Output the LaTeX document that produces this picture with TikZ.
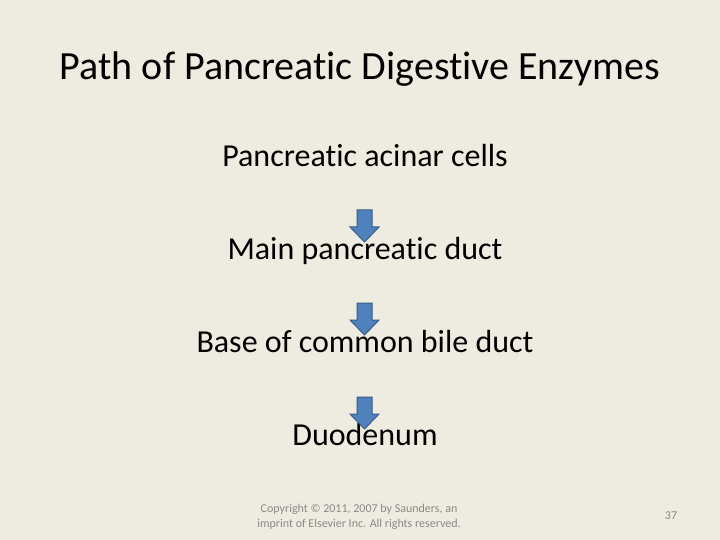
\documentclass[tikz,border=0pt]{standalone}
\usepackage{fontspec}
\setmainfont[Ligatures={NoCommon}]{Carlito}
\definecolor{slidebg}{HTML}{EEECE1}
\definecolor{arrowfill}{HTML}{4F81BD}
\definecolor{arrowline}{HTML}{385D8A}
\definecolor{footgray}{HTML}{898989}
\tikzset{
  body/.style={anchor=base, inner sep=0pt, font=\fontsize{32}{38}\selectfont, text=black},
  downarrow/.style={fill=arrowfill, draw=arrowline, line width=1pt, line join=miter}
}
\newcommand{\blockarrow}[2]{% x center, top y
  \filldraw[downarrow] (#1-7.5,#2) -- (#1+7.5,#2) -- (#1+7.5,#2+17) -- (#1+14.5,#2+17)
    -- (#1,#2+32) -- (#1-14.5,#2+17) -- (#1-7.5,#2+17) -- cycle;
}
\begin{document}
\begin{tikzpicture}[x=1pt,y=-1pt]
\fill[slidebg] (0,0) rectangle (720,540);
\useasboundingbox (0,0) rectangle (720,540);
\node[anchor=base, inner sep=0pt, font=\fontsize{40}{48}\selectfont] (title) at (360,80) {Path of Pancreatic Digestive Enzymes};
\node[body] (acinar) at (365,167) {Pancreatic acinar cells};
\node[body] (main) at (365,259) {Main pancreatic duct};
\node[body] (base) at (365,352) {Base of common bile duct};
\node[body] (duo) at (365,445) {Duodenum};
\blockarrow{364.5}{210}
\blockarrow{364.5}{303}
\blockarrow{364.5}{397}
\node[align=center, inner sep=0pt, text=footgray, font=\fontsize{12}{14.5}\selectfont] (copy) at (359,517) {Copyright © 2011, 2007 by Saunders, an\\ imprint of Elsevier Inc. All rights reserved.};
\node[inner sep=0pt, text=footgray, font=\fontsize{12}{14}\selectfont] (page) at (671,516) {37};
\end{tikzpicture}
\end{document}
